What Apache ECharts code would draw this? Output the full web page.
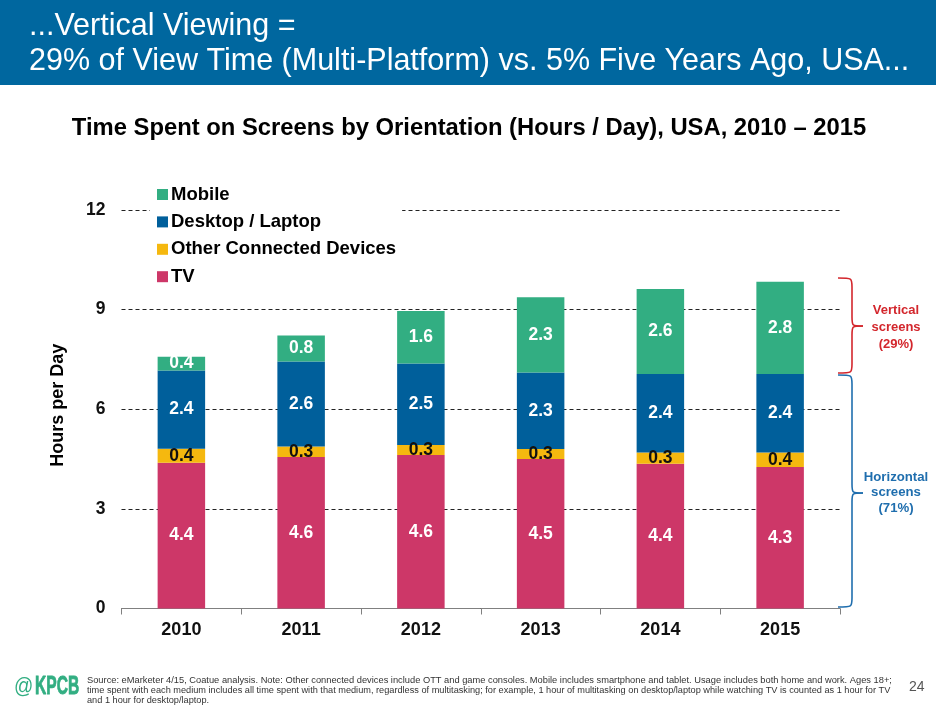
<!DOCTYPE html>
<html>
<head>
<meta charset="utf-8">
<title>Time Spent on Screens</title>
<script src="https://cdn.jsdelivr.net/npm/echarts@6/dist/echarts.min.js"></script>
<style>
html, body { margin: 0; padding: 0; background: #fff; }
#chart { width: 936px; height: 708px; }
</style>
</head>
<body>
<div id="chart"></div>
<script>
var years = ['2010', '2011', '2012', '2013', '2014', '2015'];
var tv = [4.39, 4.56, 4.62, 4.50, 4.36, 4.26];
var other = [0.42, 0.32, 0.30, 0.30, 0.34, 0.44];
var desktop = [2.36, 2.56, 2.46, 2.31, 2.36, 2.36];
var mobile = [0.41, 0.78, 1.58, 2.26, 2.56, 2.78];
var totals = [7.6, 8.2, 9.0, 9.4, 9.6, 9.9];
var yTicks = { min: 0, max: 12, interval: 3 };
var legendOrder = ['Mobile', 'Desktop / Laptop', 'Other Connected Devices', 'TV'];

var FONT = '"Liberation Sans", Arial, sans-serif';
var GREEN = '#32AE82', BLUE = '#005F9B', YELLOW = '#F5B80F', PINK = '#CD3768';
var HEADER = '#00679F', RED = '#D3262C', BRACE_BLUE = '#1F6EAE';

var footnote = [
    'Source: eMarketer 4/15, Coatue analysis. Note: Other connected devices include OTT and game consoles. Mobile includes smartphone and tablet. Usage includes both home and work. Ages 18+;',
    'time spent with each medium includes all time spent with that medium, regardless of multitasking; for example, 1 hour of multitasking on desktop/laptop while watching TV is counted as 1 hour for TV',
    'and 1 hour for desktop/laptop.'
];

function segment(name, values, color, labelColor) {
    return {
        name: name,
        type: 'bar',
        stack: 'hours',
        barWidth: 47.5,
        data: values,
        itemStyle: { color: color },
        label: {
            show: true,
            position: 'inside',
            color: labelColor,
            fontFamily: FONT,
            fontSize: 17.5,
            fontWeight: 'bold',
            formatter: function (p) { return p.value.toFixed(1); }
        }
    };
}

// curly bracket on the right of the last bar
function brace(top, mid, bottom, color) {
    var a = 838, b = 852, tip = 863, r = 9;
    var line = { stroke: color, lineWidth: 1.6, fill: null };
    function curve(x1, y1, x2, y2, cx, cy) {
        return { type: 'bezierCurve', silent: true, style: line,
            shape: { x1: x1, y1: y1, x2: x2, y2: y2, cpx1: cx, cpy1: cy, cpx2: cx, cpy2: cy } };
    }
    function vert(y1, y2) {
        return { type: 'line', silent: true, style: line, shape: { x1: b, y1: y1, x2: b, y2: y2 } };
    }
    return [
        curve(a, top, b, top + r, b, top),
        vert(top + r, mid - r),
        curve(b, mid - r, tip, mid, b, mid),
        curve(tip, mid, b, mid + r, b, mid),
        vert(mid + r, bottom - r),
        curve(b, bottom - r, a, bottom, b, bottom)
    ];
}

function label(x, y, text, size, color, extra) {
    var style = { x: x, y: y, text: text, fontFamily: FONT, fontSize: size, fill: color, textVerticalAlign: 'middle' };
    for (var k in (extra || {})) style[k] = extra[k];
    return { type: 'text', silent: true, style: style };
}

// logo letters are condensed in the original
function logo(x, text, size, weight, sx, sy, outline) {
    return { type: 'text', silent: true, x: x, y: 687, scaleX: sx, scaleY: sy,
        style: { text: text, fontFamily: FONT, fontSize: size, fontWeight: weight, fill: GREEN,
            stroke: GREEN, lineWidth: outline, textVerticalAlign: 'middle' } };
}

var graphics = [
    { type: 'rect', silent: true, z: 0, shape: { x: 0, y: 0, width: 936, height: 85 }, style: { fill: HEADER } },
    label(29, 27, '...Vertical Viewing =', 30.5, '#fff'),
    label(29, 62, '29% of View Time (Multi-Platform) vs. 5% Five Years Ago, USA...', 30.5, '#fff'),
    label(469, 128, 'Time Spent on Screens by Orientation (Hours / Day), USA, 2010 \u2013 2015', 23.8, '#000',
        { fontWeight: 'bold', textAlign: 'center' }),
    label(896, 310, 'Vertical', 13, RED, { fontWeight: 'bold', textAlign: 'center' }),
    label(896, 327, 'screens', 13, RED, { fontWeight: 'bold', textAlign: 'center' }),
    label(896, 344, '(29%)', 13, RED, { fontWeight: 'bold', textAlign: 'center' }),
    label(896, 477, 'Horizontal', 13.2, BRACE_BLUE, { fontWeight: 'bold', textAlign: 'center' }),
    label(896, 492, 'screens', 13.2, BRACE_BLUE, { fontWeight: 'bold', textAlign: 'center' }),
    label(896, 508, '(71%)', 13.2, BRACE_BLUE, { fontWeight: 'bold', textAlign: 'center' }),
    logo(14, '@', 20, 'normal', 0.95, 1.1, 0),
    logo(35, 'KPCB', 24, 'bold', 0.65, 1.05, 0.8),
    label(87, 680, footnote[0], 9.3, '#333'),
    label(87, 690, footnote[1], 9.2, '#333'),
    label(87, 700, footnote[2], 9.2, '#333'),
    label(909, 687, '24', 14, '#555')
].concat(brace(278, 326, 373, RED), brace(375, 493, 607, BRACE_BLUE));

var option = {
    animation: false,
    backgroundColor: '#fff',
    textStyle: { fontFamily: FONT },
    grid: { left: 121.5, right: 96, top: 210, bottom: 99.5 },
    legend: {
        orient: 'vertical',
        left: 150,
        top: 180,
        padding: [5, 6, 5, 7],
        backgroundColor: '#fff',
        data: legendOrder,
        selectedMode: false,
        icon: 'rect',
        itemWidth: 11,
        itemHeight: 11,
        itemGap: 8.4,
        textStyle: { color: '#000', fontFamily: FONT, fontSize: 18.5, fontWeight: 'bold', lineHeight: 18, padding: [0, 0, 0, -2] }
    },
    xAxis: {
        type: 'category',
        data: years,
        axisLine: { lineStyle: { color: '#808080', width: 1 } },
        axisTick: { show: true, length: 6, alignWithLabel: false, lineStyle: { color: '#808080' } },
        axisLabel: { color: '#111', fontFamily: FONT, fontSize: 18, fontWeight: 'bold', margin: 13 }
    },
    yAxis: {
        type: 'value',
        min: yTicks.min,
        max: yTicks.max,
        interval: yTicks.interval,
        name: 'Hours per Day',
        nameLocation: 'middle',
        nameGap: 54,
        nameRotate: 90,
        nameTextStyle: { color: '#000', fontFamily: FONT, fontSize: 18, fontWeight: 'bold', padding: [0, 0, 0, 8] },
        axisLine: { show: false },
        axisTick: { show: false },
        axisLabel: { color: '#111', fontFamily: FONT, fontSize: 17.5, fontWeight: 'bold', margin: 16 },
        splitLine: { lineStyle: { color: '#222', width: 1, type: [4, 3] } }
    },
    series: [
        segment('TV', tv, PINK, '#fff'),
        segment('Other Connected Devices', other, YELLOW, '#111'),
        segment('Desktop / Laptop', desktop, BLUE, '#fff'),
        segment('Mobile', mobile, GREEN, '#fff'),
        {
            name: 'Total',
            type: 'line',
            data: totals,
            symbol: 'none',
            lineStyle: { opacity: 0 },
            label: {
                show: true,
                position: 'top',
                distance: 7,
                color: '#000',
                fontFamily: FONT,
                fontSize: 17.5,
                fontWeight: 'bold',
                formatter: function (p) { return p.value.toFixed(1); }
            }
        }
    ],
    graphic: graphics
};

var chart = echarts.init(document.getElementById('chart'), null, { renderer: 'canvas' });
chart.setOption(option);
</script>
</body>
</html>
